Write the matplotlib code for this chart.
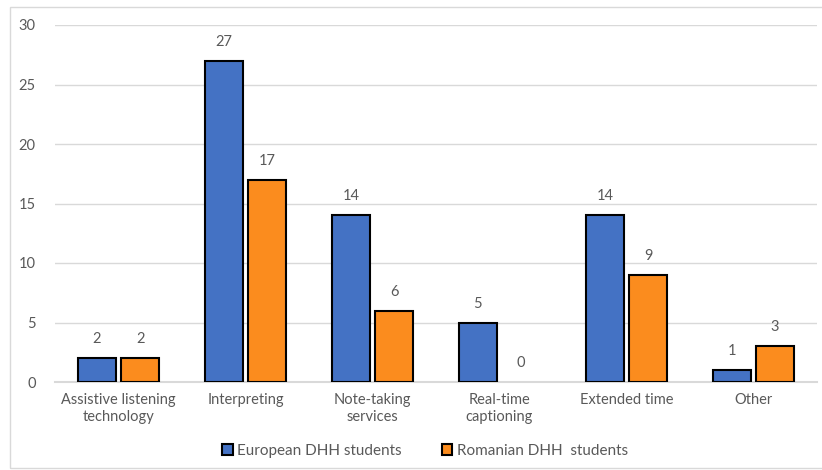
import matplotlib.pyplot as plt
import numpy as np
from matplotlib.patches import Rectangle

categories = ["Assistive listening\ntechnology", "Interpreting", "Note-taking\nservices",
              "Real-time\ncaptioning", "Extended time", "Other"]
european = [2, 27, 14, 5, 14, 1]
romanian = [2, 17, 6, 0, 9, 3]
series_names = ["European DHH students", "Romanian DHH  students"]

plt.rcParams["font.family"] = ["Lato", "DejaVu Sans"]
text_color = "#595959"

fig = plt.figure(figsize=(8.22, 4.70), dpi=100)
ax = fig.add_axes([55 / 822, 1 - 382 / 470, 762 / 822, 357 / 470])

# light outer border like the office chart frame
fig.patches.append(Rectangle((10 / 822, 2 / 470), 830 / 822, 461 / 470, transform=fig.transFigure,
                             fill=False, edgecolor="#d9d9d9", linewidth=1))

x = np.arange(len(categories))
w = 0.30
b1 = ax.bar(x - 0.17, european, w, color="#4472c4", edgecolor="black", linewidth=1.5,
            label=series_names[0], zorder=3)
b2 = ax.bar(x + 0.17, romanian, w, color="#fb8c1e", edgecolor="black", linewidth=1.5,
            label=series_names[1], zorder=3)
for bars in (b1, b2):
    for rect, v in zip(bars, bars.datavalues):
        if v == 0:
            rect.set_linewidth(0)
        ax.text(rect.get_x() + rect.get_width() / 2, v + 1.0, f"{v:g}", ha="center", va="bottom",
                fontsize=10.5, color=text_color)

ax.set_xlim(-0.5, len(categories) - 0.5)
ax.set_ylim(0, 30)
ax.set_yticks(range(0, 31, 5))
ax.set_xticks(x)
ax.set_xticklabels(categories, fontsize=10.5, color=text_color, linespacing=1.25)
ax.tick_params(axis="y", length=0, labelsize=10.5, labelcolor=text_color, pad=14)
ax.tick_params(axis="x", length=0, pad=8)
ax.grid(axis="y", color="#d9d9d9", linewidth=1, zorder=0)
for s in ["top", "right", "left"]:
    ax.spines[s].set_visible(False)
ax.spines["bottom"].set_color("#d9d9d9")
ax.spines["bottom"].set_linewidth(1.5)

leg = fig.legend(loc="center", bbox_to_anchor=(425 / 822, 1 - 451 / 470), ncol=2, frameon=False,
                 fontsize=11, handlelength=0.7, handleheight=0.7, handletextpad=0.3, columnspacing=2.6)
for t in leg.get_texts():
    t.set_color(text_color)

fig.savefig("out.png", dpi=100)
